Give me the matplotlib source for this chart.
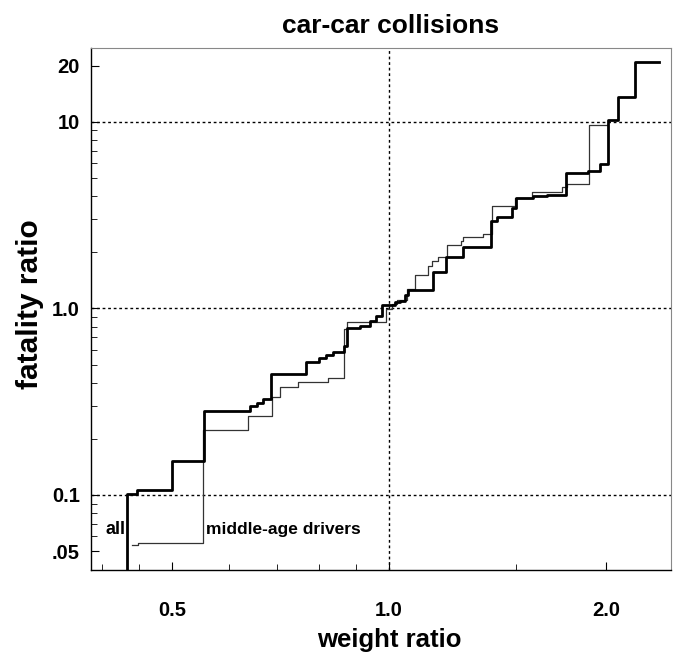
import matplotlib
matplotlib.use("Agg")
import matplotlib.pyplot as plt
from matplotlib.ticker import FixedLocator, NullFormatter

# ---- data ----
# "all" drivers (thick step line); first point starts below the axis
all_x = [0.433, 0.433, 0.447, 0.500, 0.554, 0.642, 0.656, 0.669, 0.686,
         0.767, 0.800, 0.818, 0.836, 0.866, 0.875, 0.912, 0.941, 0.959,
         0.978, 1.019, 1.036, 1.052, 1.063, 1.151, 1.200, 1.267, 1.385,
         1.412, 1.481, 1.500, 1.584, 1.657, 1.760, 1.888, 1.962, 2.012,
         2.078, 2.194, 2.369]
all_y = [0.030, 0.1006, 0.1057, 0.1512, 0.2804, 0.2982, 0.3095, 0.3251, 0.4426,
         0.5133, 0.5394, 0.5598, 0.5806, 0.6255, 0.7812, 0.8006, 0.8518, 0.9060,
         1.0377, 1.0769, 1.0903, 1.174, 1.249, 1.560, 1.877, 2.124, 2.928,
         3.076, 3.438, 3.889, 3.986, 4.036, 5.295, 5.428, 5.918, 10.19,
         13.53, 20.84, 20.84]

# middle-age drivers (thin step line)
mid_x = [0.440, 0.449, 0.552, 0.637, 0.689, 0.706, 0.748, 0.823, 0.866,
         0.875, 0.991, 1.010, 1.026, 1.059, 1.087, 1.133, 1.147, 1.169,
         1.204, 1.259, 1.267, 1.350, 1.389, 1.495, 1.579, 1.738, 1.766,
         1.894, 2.006]
mid_y = [0.0536, 0.0556, 0.2217, 0.2636, 0.3332, 0.3772, 0.4011, 0.4213, 0.7716,
         0.8414, 0.9877, 1.0506, 1.1037, 1.2644, 1.503, 1.680, 1.787, 1.877,
         2.177, 2.287, 2.403, 2.494, 3.524, 3.889, 4.188, 4.456, 4.624,
         9.58, 9.58]

x_ticks = [0.5, 1.0, 2.0]
x_tick_labels = ["0.5", "1.0", "2.0"]
y_ticks = [0.05, 0.1, 1.0, 10, 20]
y_tick_labels = [".05", "0.1", "1.0", "10", "20"]
grid_y = [0.1, 1.0, 10]
grid_x = [1.0]

FAM = ["Liberation Sans", "DejaVu Sans"]
plt.rcParams["font.family"] = FAM

fig = plt.figure(figsize=(6.82, 6.71), dpi=100)
ax = fig.add_axes([0.1334, 0.1505, 0.8504, 0.7780])
ax.set_xscale("log")
ax.set_yscale("log")
ax.set_xlim(0.386, 2.46)
ax.set_ylim(0.0396, 24.9)

for gy in grid_y:
    ax.axhline(gy, color="black", lw=1.0, ls=(0, (2, 2)), zorder=1)
for gx in grid_x:
    ax.axvline(gx, color="black", lw=1.0, ls=(0, (2, 2)), zorder=1)

ax.plot(all_x, all_y, drawstyle="steps-post", color="black", lw=2.0, zorder=3)
ax.plot(mid_x, mid_y, drawstyle="steps-post", color="#333333", lw=0.9, zorder=2)

ax.xaxis.set_major_locator(FixedLocator(x_ticks))
ax.set_xticklabels(x_tick_labels)
ax.xaxis.set_minor_locator(FixedLocator([0.4, 0.45, 0.6, 0.7, 0.8, 0.9, 1.5]))
ax.xaxis.set_minor_formatter(NullFormatter())
ax.yaxis.set_major_locator(FixedLocator(y_ticks))
ax.set_yticklabels(y_tick_labels)
ax.yaxis.set_minor_locator(FixedLocator([0.06, 0.07, 0.08, 0.09, 0.2, 0.3, 0.4, 0.5,
                                         0.6, 0.7, 0.8, 0.9, 2, 3, 4, 5, 6, 7, 8, 9]))
ax.yaxis.set_minor_formatter(NullFormatter())

ax.tick_params(axis="both", which="both", direction="in", top=False, right=False)
ax.tick_params(axis="x", which="major", length=6, width=0.8, pad=22, labelsize=14.5)
ax.tick_params(axis="y", which="major", length=6, width=0.8, pad=8, labelsize=14.5)
ax.tick_params(axis="both", which="minor", length=4, width=0.6)
for lab in ax.get_xticklabels() + ax.get_yticklabels():
    lab.set_fontweight("bold")

for side in ["left", "bottom"]:
    ax.spines[side].set_color("black")
    ax.spines[side].set_linewidth(1.0)
for side in ["top", "right"]:
    ax.spines[side].set_color("#888888")
    ax.spines[side].set_linewidth(0.8)

ax.set_xlabel("weight ratio", fontsize=18.5, fontweight="bold", labelpad=6, x=0.514)
ax.set_ylabel("fatality ratio", fontsize=21.5, fontweight="bold", labelpad=6, y=0.51)
ax.set_title("car-car collisions", fontsize=19, fontweight="bold", pad=11, x=0.516)

ax.text(0.043, 0.0785, "all", transform=ax.transAxes, fontsize=13,
        fontweight="bold", ha="center", va="center")
ax.text(0.198, 0.0785, "middle-age drivers", transform=ax.transAxes, fontsize=12.5,
        fontweight="bold", ha="left", va="center")

fig.savefig("out.png", dpi=100)
